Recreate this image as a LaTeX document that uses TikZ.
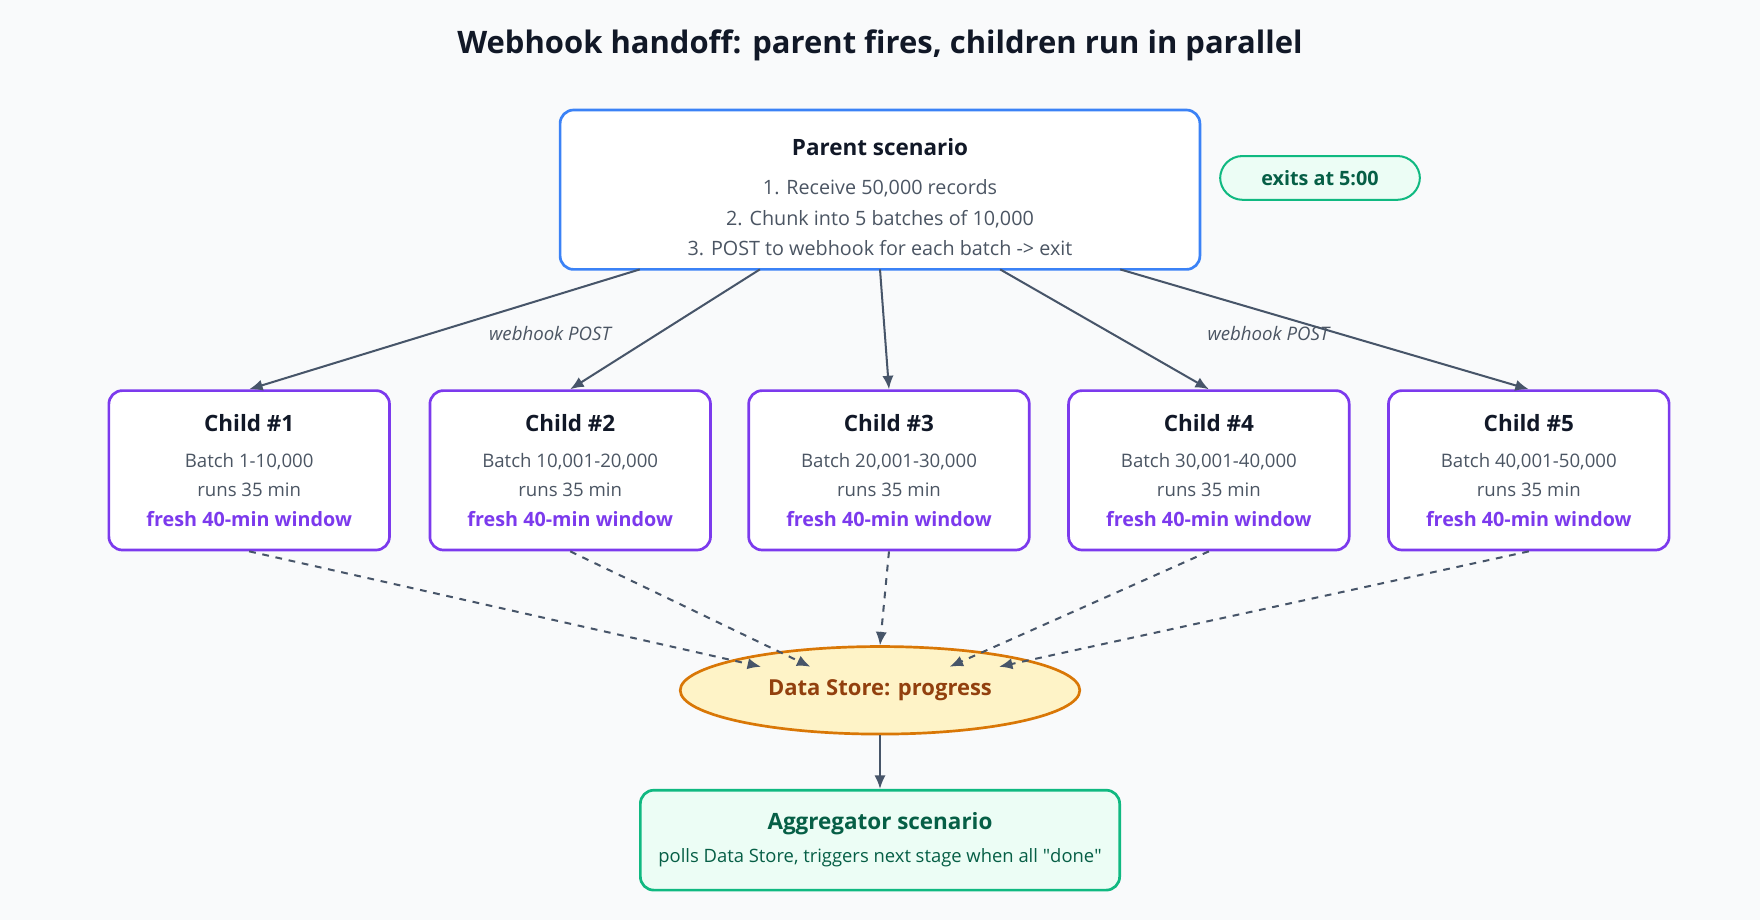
\documentclass[tikz,border=0pt]{standalone}
\usepackage{fontspec}
\setmainfont{Open Sans}
\newfontfamily\nomapq{Open Sans}
\usetikzlibrary{arrows.meta,shapes.geometric}
\definecolor{bg}{HTML}{F9FAFB}
\definecolor{blu}{HTML}{3B82F6}
\definecolor{pur}{HTML}{7C3AED}
\definecolor{grn}{HTML}{10B981}
\definecolor{grnf}{HTML}{ECFDF5}
\definecolor{grnt}{HTML}{065F46}
\definecolor{ora}{HTML}{D97706}
\definecolor{oraf}{HTML}{FEF3C7}
\definecolor{orat}{HTML}{92400E}
\definecolor{txt}{HTML}{111827}
\definecolor{sub}{HTML}{4B5563}
\definecolor{arr}{HTML}{475569}
\begin{document}
\begin{tikzpicture}[x=0.5pt,y=-0.5pt,
 box/.style={draw,line width=1.2pt,rounded corners=6pt,fill=white},
 child/.style={box,draw=pur,minimum width=125pt,minimum height=71pt},
 con/.style={draw=arr,line width=0.9pt,-{Latex[length=6pt,width=5pt]}},
 dcon/.style={con,dashed},
 lab/.style={font=\fontsize{8.3}{10}\selectfont\itshape,text=sub}]
\fill[bg] (0,0) rectangle (1568,820);
\useasboundingbox (0,0) rectangle (1568,820);
\node[font=\fontsize{13.8}{16}\selectfont\bfseries,text=txt] (title) at (784,40) {Webhook handoff: parent fires, children run in parallel};
\node[box,draw=blu,minimum width=285pt,minimum height=71pt] (parent) at (784,169) {};
\node[font=\fontsize{10}{12}\selectfont\bfseries,text=txt] (pt) at (784,131) {Parent scenario};
\node[font=\fontsize{8.8}{11}\selectfont,text=sub] (p1) at (784,168) {1. Receive 50,000 records};
\node[font=\fontsize{8.8}{11}\selectfont,text=sub] (p2) at (784,195) {2. Chunk into 5 batches of 10,000};
\node[font=\fontsize{8.8}{11}\selectfont,text=sub] (p3) at (784,221) {3. POST to webhook for each batch -> exit};
\node[draw=grn,fill=grnf,line width=0.9pt,rounded corners=10pt,minimum width=89pt,minimum height=19.5pt,font=\fontsize{8.8}{11}\selectfont\bfseries,text=grnt] (exits) at (1176,158.5) {exits at 5:00};
\foreach \i/\x/\b in {1/222/{1-10,000}, 2/508/{10,001-20,000}, 3/792/{20,001-30,000}, 4/1077/{30,001-40,000}, 5/1362/{40,001-50,000}}{
 \node[child] (c\i) at (\x,419) {};
 \node[font=\fontsize{10}{12}\selectfont\bfseries,text=txt] (ct\i) at (\x,377) {Child \#\i};
 \node[font=\fontsize{8.3}{10}\selectfont,text=sub] (cb\i) at (\x,411) {Batch \b};
 \node[font=\fontsize{8.3}{10}\selectfont,text=sub] (cr\i) at (\x,436) {runs 35 min};
 \node[font=\fontsize{8.8}{11}\selectfont\bfseries,text=pur] (cf\i) at (\x,462) {fresh 40-min window};
}
\node[ellipse,draw=ora,fill=oraf,line width=1.2pt,minimum width=178pt,minimum height=39pt,inner sep=0pt,font=\fontsize{9.8}{12}\selectfont\bfseries,text=orat] (ds) at (784,615) {Data Store: progress};
\node[box,draw=grn,fill=grnf,minimum width=213.5pt,minimum height=44.5pt] (agg) at (784,748.5) {};
\node[font=\fontsize{10}{12}\selectfont\bfseries,text=grnt] (at) at (784,734) {Aggregator scenario};
\node[font=\fontsize{8.2}{10}\selectfont,text=grnt] (as) at (784,764) {polls Data Store, triggers next stage when all {\nomapq"}done{\nomapq"}};
\foreach \i/\x in {1/570,2/677,3/784,4/891,5/998}{\coordinate (s\i) at (\x,240);}
\foreach \i in {1,...,5}{\draw[con] (s\i) -- (c\i.north);}
\node[lab] (l1) at (490,297) {webhook POST};
\node[lab] (l2) at (1130,297) {webhook POST};
\foreach \i/\x/\y in {1/678/594,2/722/594,3/784/575,4/846/594,5/890/594}{\coordinate (e\i) at (\x,\y);}
\foreach \i in {1,...,5}{\draw[dcon] (c\i.south) -- (e\i);}
\draw[con] (ds.south) -- (agg.north);
\end{tikzpicture}
\end{document}
